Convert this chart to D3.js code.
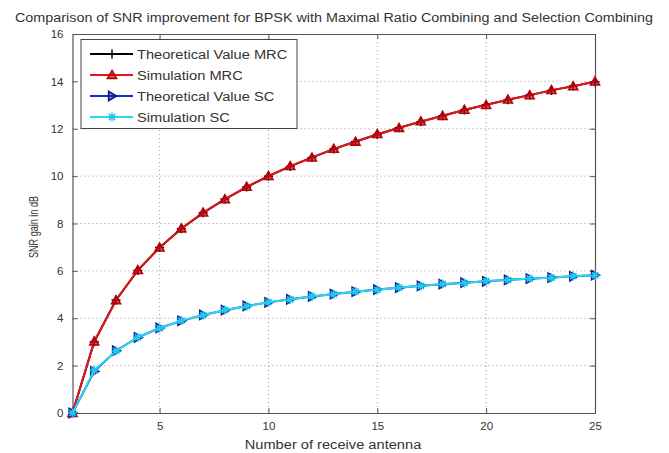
<!DOCTYPE html>
<html><head><meta charset="utf-8">
<script src="https://cdn.jsdelivr.net/npm/d3@7"></script>
<style>body{margin:0;background:#fff}svg{display:block}text{font-family:"Liberation Sans",Arial,sans-serif;fill:#333}</style>
</head><body>
<svg id="c" width="669" height="453"></svg>
<script>
const antennas = [1,2,3,4,5,6,7,8,9,10,11,12,13,14,15,16,17,18,19,20,21,22,23,24,25];
const theoMRC = [0,3.01,4.77,6.02,6.99,7.78,8.45,9.03,9.54,10.0,10.41,10.79,11.14,11.46,11.76,12.04,12.30,12.55,12.79,13.01,13.22,13.42,13.62,13.80,13.98];
const simMRC  = [0,3.02,4.76,6.03,6.98,7.79,8.46,9.02,9.55,10.0,10.42,10.78,11.15,11.45,11.77,12.03,12.31,12.54,12.80,13.00,13.23,13.41,13.63,13.79,13.99];
const theoSC  = [0,1.76,2.63,3.19,3.59,3.89,4.14,4.34,4.52,4.67,4.80,4.92,5.02,5.12,5.21,5.29,5.37,5.44,5.50,5.56,5.62,5.67,5.72,5.77,5.82];
const simSC   = [0,1.80,2.62,3.20,3.58,3.90,4.13,4.35,4.51,4.68,4.79,4.93,5.01,5.13,5.20,5.30,5.36,5.45,5.49,5.57,5.61,5.68,5.71,5.78,5.81];
const xTicks = [5,10,15,20,25];
const yTicks = [0,2,4,6,8,10,12,14,16];
const seriesNames = ["Theoretical Value MRC","Simulation MRC","Theoretical Value SC","Simulation SC"];
const titleText = "Comparison of SNR improvement for BPSK with Maximal Ratio Combining and Selection Combining";
const xLabel = "Number of receive antenna";
const yLabel = "SNR gain in dB";

const svg = d3.select("#c");
const L=72.5, R=595, T=34, B=413;
const x = d3.scaleLinear().domain([1,25]).range([L,R]);
const y = d3.scaleLinear().domain([0,16]).range([B,T]);
const axisCol="#555";

// grid
const g = svg.append("g");
g.selectAll(".gx").data(xTicks.filter(d=>d<25)).enter().append("line")
  .attr("x1",d=>x(d)).attr("x2",d=>x(d)).attr("y1",T).attr("y2",B)
  .attr("stroke","#999").attr("stroke-dasharray","1,3");
g.selectAll(".gy").data(yTicks.filter(d=>d>0&&d<16)).enter().append("line")
  .attr("x1",L).attr("x2",R).attr("y1",d=>y(d)).attr("y2",d=>y(d))
  .attr("stroke","#999").attr("stroke-dasharray","1,3");

// axes
const xa = svg.append("g").attr("transform",`translate(0,${B})`)
  .call(d3.axisBottom(x).tickValues(xTicks).tickSizeInner(-5).tickSizeOuter(0).tickPadding(9));
const xa2 = svg.append("g").attr("transform",`translate(0,${T})`)
  .call(d3.axisTop(x).tickValues(xTicks).tickSizeInner(-5).tickSizeOuter(0).tickFormat(""));
const ya = svg.append("g").attr("transform",`translate(${L},0)`)
  .call(d3.axisLeft(y).tickValues(yTicks).tickSizeInner(-5).tickSizeOuter(0).tickPadding(9));
const ya2 = svg.append("g").attr("transform",`translate(${R},0)`)
  .call(d3.axisRight(y).tickValues(yTicks).tickSizeInner(-5).tickSizeOuter(0).tickFormat(""));
[xa,xa2,ya,ya2].forEach(a=>{
  a.select(".domain").attr("stroke",axisCol).attr("stroke-width",1.2);
  a.selectAll(".tick line").attr("stroke",axisCol);
  a.selectAll("text").attr("font-size",11.5).attr("fill","#444").style("font-family","Liberation Sans, Arial, sans-serif");
});

// series
const line = d3.line().x((d,i)=>x(antennas[i])).y(d=>y(d));
function marker(sel, type, color, s){
  const h=s/2;
  if(type==="plus"){
    sel.append("path").attr("d",`M${-h},0H${h}M0,${-h}V${h}`).attr("stroke",color).attr("stroke-width",1.5).attr("fill","none");
  } else if(type==="star"){
    const k=h*0.7;
    sel.append("path").attr("d",`M${-h},0H${h}M0,${-h}V${h}M${-k},${-k}L${k},${k}M${-k},${k}L${k},${-k}`).attr("stroke",color).attr("stroke-width",1.5).attr("fill","none");
  } else if(type==="up"){
    sel.append("path").attr("d",`M0,${-h}L${h},${h*0.75}L${-h},${h*0.75}Z`).attr("stroke",color).attr("stroke-width",1.6).attr("fill",color).attr("fill-opacity",0.6);
  } else if(type==="right"){
    sel.append("path").attr("d",`M${h},0L${-h*0.75},${h}L${-h*0.75},${-h}Z`).attr("stroke",color).attr("stroke-width",1.6).attr("fill",color).attr("fill-opacity",0.5);
  }
}
const series = [
  {vals:theoMRC, color:"#000000", m:"plus", mc:"#000"},
  {vals:simMRC,  color:"#e8141a", m:"up", mc:"#b8000c"},
  {vals:theoSC,  color:"#1030c8", m:"right", mc:"#0a1a90"},
  {vals:simSC,   color:"#28d8f0", m:"star", mc:"#20c8f0"}
];
series.forEach(s=>{
  svg.append("path").datum(s.vals).attr("d",line).attr("fill","none").attr("stroke",s.color).attr("stroke-width",2);
  s.vals.forEach((v,i)=>{
    const gg = svg.append("g").attr("transform",`translate(${x(antennas[i])},${y(v)})`);
    marker(gg, s.m, s.mc, 9);
  });
});

// legend
const lg = svg.append("g");
lg.append("rect").attr("x",81).attr("y",39.5).attr("width",216).attr("height",89).attr("fill","#fff").attr("stroke","#444").attr("stroke-width",1);
const ly = [54,75,96,117];
series.forEach((s,i)=>{
  lg.append("line").attr("x1",90).attr("x2",133).attr("y1",ly[i]).attr("y2",ly[i]).attr("stroke",s.color).attr("stroke-width",2);
  const gg = lg.append("g").attr("transform",`translate(112,${ly[i]})`);
  marker(gg, s.m, s.mc, 9);
  lg.append("text").attr("class","st").attr("x",137).attr("y",ly[i]+4.5).attr("font-size",12).text(seriesNames[i]);
});

// title and labels
svg.append("text").attr("id","title").attr("x",334).attr("y",22).attr("text-anchor","middle").attr("font-size",12).text(titleText);
svg.append("text").attr("class","st").attr("x",333).attr("y",449).attr("text-anchor","middle").attr("font-size",12).text(xLabel);
svg.append("text").attr("transform","translate(38,227) rotate(-90)").attr("text-anchor","middle").attr("font-size",13)
  .attr("textLength",62).attr("lengthAdjust","spacingAndGlyphs").text(yLabel);

svg.selectAll("text.st").each(function(){
  const w=this.getComputedTextLength();
  d3.select(this).attr("textLength",w*1.22).attr("lengthAdjust","spacingAndGlyphs");
});
svg.select("#title").attr("textLength",638).attr("lengthAdjust","spacingAndGlyphs");
</script>
</body></html>
